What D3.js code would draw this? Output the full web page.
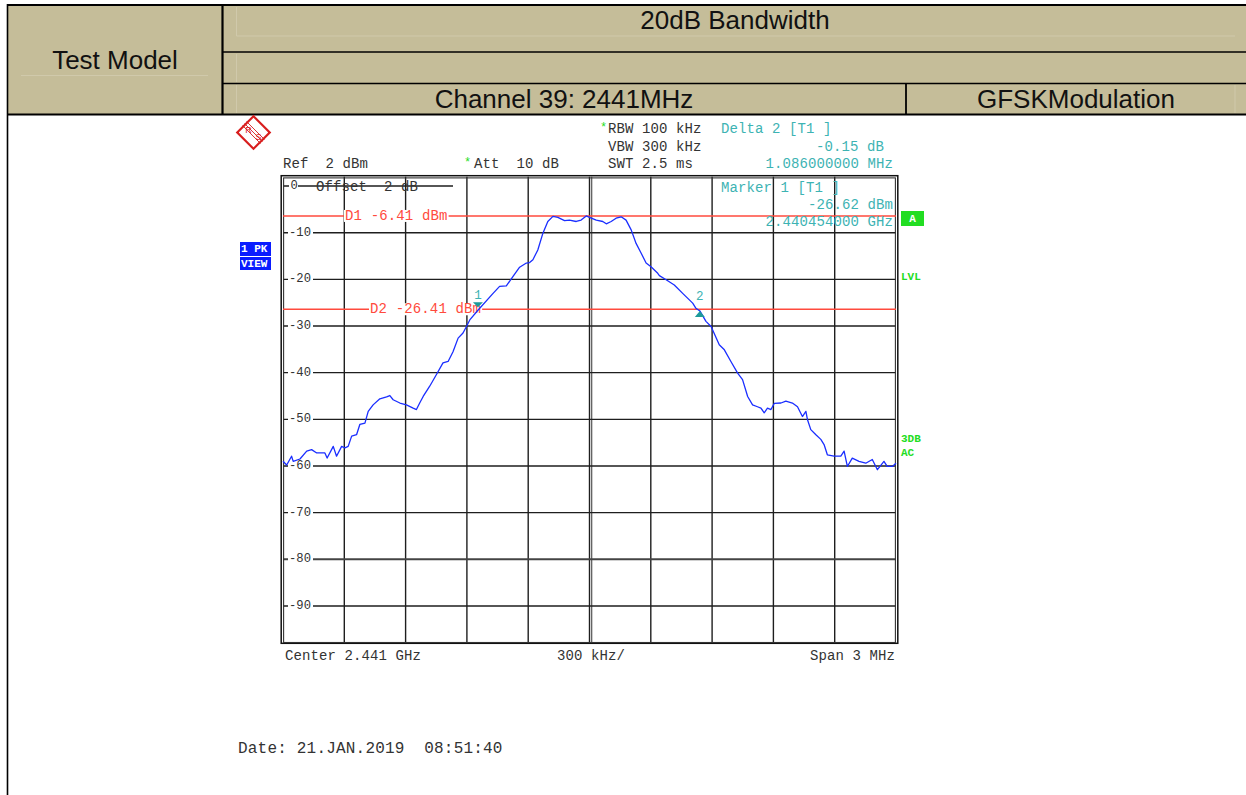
<!DOCTYPE html>
<html><head><meta charset="utf-8">
<script src="https://cdn.jsdelivr.net/npm/d3@7"></script>
<style>body{margin:0;background:#fff}</style>
</head><body>
<svg id="c" width="1246" height="795"></svg>
<script>
// ---- data (offset from 2.441 GHz centre, kHz / level dBm) ----
const freqKHz = [-1500,-1482,-1458,-1450,-1417,-1384,-1360,-1335,-1295,-1284,-1254,-1238,-1213,-1197,-1181,-1164,-1140,-1124,-1099,-1083,-1059,-1026,-993,-977,-961,-928,-896,-863,-847,-831,-814,-782,-749,-717,-692,-668,-643,-619,-602,-586,-546,-472,-440,-407,-375,-342,-309,-293,-277,-253,-228,-204,-179,-155,-122,-98,-65,-41,-16,0,33,65,82,106,130,155,179,204,228,253,277,301,334,342,375,415,456,505,521,540,570,595,635,660,692,725,749,774,798,822,839,855,871,888,904,937,961,993,1018,1042,1059,1067,1083,1108,1132,1148,1164,1197,1230,1246,1262,1286,1319,1352,1384,1409,1441,1457,1482,1500];
const levelDbm = [-59.0,-59.8,-57.9,-59.0,-58.5,-56.8,-56.5,-57.2,-57.2,-58.3,-55.8,-57.9,-55.8,-56.1,-55.8,-53.6,-53.3,-51.1,-50.8,-48.3,-46.9,-45.6,-45.2,-44.9,-45.8,-46.5,-46.9,-47.6,-47.9,-46.5,-45.1,-42.9,-40.4,-37.9,-37.6,-35.5,-32.6,-31.5,-30.1,-28.7,-26.62,-23.0,-21.5,-21.4,-19.4,-17.4,-16.5,-16.4,-15.8,-13.7,-10.1,-7.6,-6.5,-6.7,-7.4,-7.3,-7.6,-7.3,-6.4,-6.7,-7.3,-7.6,-8.1,-7.6,-6.9,-6.6,-7.3,-9.4,-12.3,-14.4,-16.5,-17.3,-18.7,-19.2,-20.1,-21.2,-23.0,-25.1,-26.2,-26.77,-29.0,-30.1,-34.0,-35.1,-37.6,-40.1,-41.5,-45.1,-46.9,-47.3,-47.6,-48.6,-47.6,-47.9,-46.6,-46.5,-46.1,-46.5,-47.3,-49.4,-48.3,-50.1,-52.2,-53.3,-54.3,-55.4,-57.6,-57.9,-57.9,-56.8,-60.1,-58.3,-59.0,-59.4,-58.6,-60.8,-59.0,-60.1,-60.1,-59.4];
const yTickValues = [-10,-20,-30,-40,-50,-60,-70,-80,-90];
const xGridValues = [-1200,-900,-600,-300,0,300,600,900,1200];
const dLineNames = ["D1 -6.41 dBm","D2 -26.41 dBm"];
const dLineValues = [-6.41,-26.41];
const markerNames = ["1","2"];
const markerFreqKHz = [-546,540];
const markerLevels = [-26.62,-26.77];
const headerTitle = "20dB Bandwidth";
const headerLeft = "Test Model";
const headerChannel = "Channel 39: 2441MHz";
const headerMod = "GFSKModulation";

const svg = d3.select("#c");
const MONO = "'Liberation Mono','Courier New',monospace";
const SANS = "'Liberation Sans',Arial,sans-serif";
const TEAL = "#3db3b3", RED = "#ff4a3d", GREEN = "#22dd22", GRID = "#1e1e1e";

// ---- header table ----
const hdr = svg.append("g");
hdr.append("rect").attr("x",8).attr("y",5).attr("width",1238).attr("height",110).attr("fill","#c5bd99");
const faint = "#d0c9ab";
[[21,75.5,208,75.5],[236.5,7,236.5,36],[236.5,36,1235,36],[236.5,54,236.5,82],[236.5,85,236.5,113],[1235,85,1235,113]].forEach(l=>{
  hdr.append("line").attr("x1",l[0]).attr("y1",l[1]).attr("x2",l[2]).attr("y2",l[3]).attr("stroke",faint).attr("stroke-width",1);
});
const blk = [[7,5,1246,5,2.2],[222.5,5,222.5,115,2.2],[222,52,1246,52,1.5],[222,83.5,1246,83.5,1.5],[7,114.5,1246,114.5,2.2],[906,83,906,115,1.8],[7.5,4,7.5,795,1.6]];
blk.forEach(l=>{
  hdr.append("line").attr("x1",l[0]).attr("y1",l[1]).attr("x2",l[2]).attr("y2",l[3]).attr("stroke","#000").attr("stroke-width",l[4]);
});
const htxt = (x,y,t)=>hdr.append("text").attr("x",x).attr("y",y).attr("text-anchor","middle").attr("dominant-baseline","central")
  .attr("font-family",SANS).attr("font-size",26).attr("fill","#111").text(t);
htxt(735,20,headerTitle);
htxt(115,60,headerLeft);
htxt(564,99,headerChannel);
htxt(1076,99,headerMod);

// ---- scales ----
const x = d3.scaleLinear().domain([-1500,1500]).range([283,896]);
const y = d3.scaleLinear().domain([2,-98]).range([176.7,643.3]);

const plot = svg.append("g");
// vertical gridlines
plot.selectAll(".vg").data(xGridValues).join("line")
  .attr("x1",d=>x(d)).attr("x2",d=>x(d)).attr("y1",y(2)).attr("y2",y(-98))
  .attr("stroke",GRID).attr("stroke-width",1.4);
// centre double line
plot.append("line").attr("x1",x(0)+2.2).attr("x2",x(0)+2.2).attr("y1",y(2)).attr("y2",y(-98)).attr("stroke","#555").attr("stroke-width",1.2);
// horizontal gridlines
plot.selectAll(".hg").data(yTickValues).join("line")
  .attr("x1",x(-1500)).attr("x2",x(1500)).attr("y1",d=>y(d)).attr("y2",d=>y(d))
  .attr("stroke",d=>d===-80?"#444":GRID).attr("stroke-width",d=>d===-80?2:1.4);
// 0 dB offset line
plot.append("line").attr("x1",x(-1500)).attr("x2",453).attr("y1",y(0)).attr("y2",y(0)).attr("stroke",GRID).attr("stroke-width",1.4);
// frame (double)
plot.append("rect").attr("x",x(-1500)-1.8).attr("y",y(2)-1).attr("width",x(1500)-x(-1500)+3.6).attr("height",y(-98)-y(2)+1)
  .attr("fill","none").attr("stroke","#111").attr("stroke-width",1.5);
plot.append("rect").attr("x",x(-1500)+0.6).attr("y",y(2)+1.2).attr("width",x(1500)-x(-1500)-1.2).attr("height",y(-98)-y(2)-2)
  .attr("fill","none").attr("stroke","#333").attr("stroke-width",1.1);

// y tick labels (inside, with white background)
const yl = plot.selectAll(".yl").data(yTickValues).join("g").attr("transform",d=>`translate(288,${y(d)})`);
yl.append("rect").attr("x",0).attr("y",-6).attr("width",25).attr("height",12).attr("fill","#fff");
yl.append("text").attr("x",1).attr("y",0).attr("dominant-baseline","central").attr("font-family",MONO).attr("font-size",12.2)
  .attr("fill","#333").text(d=>String(d));
plot.append("rect").attr("x",289).attr("y",y(0)-6).attr("width",9).attr("height",12).attr("fill","#fff");
plot.append("text").attr("x",290.5).attr("y",y(0)).attr("dominant-baseline","central").attr("font-family",MONO).attr("font-size",12.2).attr("fill","#333").text("0");
plot.append("text").attr("x",316).attr("y",y(0)+1).attr("dominant-baseline","central").attr("font-family",MONO).attr("font-size",14)
  .attr("letter-spacing",0.1).attr("fill","#333").attr("xml:space","preserve").text("Offset  2 dB");

// display lines D1/D2
const dl = plot.selectAll(".dl").data(dLineValues).join("g");
dl.append("line").attr("x1",x(-1500)).attr("x2",x(1500)).attr("y1",d=>y(d)).attr("y2",d=>y(d)).attr("stroke",RED).attr("stroke-width",1.5);
const dlx = [345,370];
dl.each(function(d,i){
  const g = d3.select(this);
  const t = g.append("text").attr("x",dlx[i]).attr("y",y(d)).attr("dominant-baseline","central").attr("font-family",MONO)
    .attr("font-size",14).attr("letter-spacing",0.15).attr("fill",RED).text(dLineNames[i]);
  const bb = t.node().getBBox();
  g.insert("rect","text").attr("x",bb.x-1).attr("y",bb.y+2).attr("width",bb.width+2).attr("height",bb.height-4).attr("fill","#fff");
});

// trace
const pts = freqKHz.map((f,i)=>[f,levelDbm[i]]);
plot.append("path").datum(pts).attr("fill","none").attr("stroke","#1a2eff").attr("stroke-width",1.3)
  .attr("stroke-linejoin","round").attr("d",d3.line().x(d=>x(d[0])).y(d=>y(d[1])));

// markers
markerFreqKHz.forEach((f,i)=>{
  const mx = x(f), my = y(markerLevels[i]);
  const tri = i===0 ? `M${mx-5},${my-8}L${mx+5},${my-8}L${mx},${my-3}Z` : `M${mx-5},${my+6}L${mx+5},${my+6}L${mx},${my}Z`;
  plot.append("path").attr("d",tri).attr("fill","#1d9a9a");
  plot.append("text").attr("x",mx).attr("y",my-14).attr("text-anchor","middle").attr("dominant-baseline","central")
    .attr("font-family",MONO).attr("font-size",12.5).attr("fill",TEAL).text(markerNames[i]);
});

// ---- annotations ----
const txt = (x0,y0,t,opt={})=>svg.append("text").attr("x",x0).attr("y",y0).attr("dominant-baseline","central")
  .attr("font-family",MONO).attr("font-size",opt.size||14).attr("letter-spacing",opt.ls==null?0.1:opt.ls)
  .attr("fill",opt.fill||"#333").attr("text-anchor",opt.anchor||"start").attr("font-weight",opt.weight||"normal")
  .attr("xml:space","preserve").text(t);
txt(608,129,"RBW 100 kHz");
txt(608,146.5,"VBW 300 kHz");
txt(608,164,"SWT 2.5 ms");
txt(283,164,"Ref  2 dBm");
txt(474,164,"Att  10 dB");
txt(600,128,"*",{fill:GREEN,size:12});
txt(464,163,"*",{fill:GREEN,size:12});
txt(721,129,"Delta 2 [T1 ]",{fill:TEAL});
txt(884,146.5,"-0.15 dB",{fill:TEAL,anchor:"end"});
txt(893,164,"1.086000000 MHz",{fill:TEAL,anchor:"end"});
txt(721,188,"Marker 1 [T1 ]",{fill:TEAL});
txt(893,204.5,"-26.62 dBm",{fill:TEAL,anchor:"end"});
txt(893,221.5,"2.440454000 GHz",{fill:TEAL,anchor:"end"});
txt(285,656,"Center 2.441 GHz");
txt(557,656,"300 kHz/");
txt(895,656,"Span 3 MHz",{anchor:"end"});
txt(238,748.5,"Date: 21.JAN.2019  08:51:40",{size:16,ls:0.2});

// side labels
svg.append("rect").attr("x",240).attr("y",242).attr("width",31).attr("height",14).attr("fill","#0a1cff");
svg.append("rect").attr("x",240).attr("y",257).attr("width",31).attr("height",13).attr("fill","#0a1cff");
txt(241,249,"1 PK",{fill:"#fff",size:11,weight:"bold",ls:0});
txt(241,263.5,"VIEW",{fill:"#fff",size:11,weight:"bold",ls:0});
svg.append("rect").attr("x",901).attr("y",211).attr("width",23).attr("height",15).attr("fill",GREEN);
txt(912.5,218.5,"A",{fill:"#fff",size:11,weight:"bold",anchor:"middle",ls:0});
txt(901,277,"LVL",{fill:GREEN,size:11,weight:"bold",ls:0});
txt(901,439,"3DB",{fill:GREEN,size:11,weight:"bold",ls:0});
txt(901,453,"AC",{fill:GREEN,size:11,weight:"bold",ls:0});

// R&S logo
const lg = svg.append("g").attr("transform","translate(253.5,132.5)");
lg.append("rect").attr("x",-11.5).attr("y",-11.5).attr("width",23).attr("height",23).attr("transform","rotate(45)")
  .attr("fill","#fff").attr("stroke","#d81e1e").attr("stroke-width",2.2);
[-2,0,2].forEach(o=>lg.append("line").attr("x1",-9+o).attr("y1",-9-o).attr("x2",9+o).attr("y2",9-o).attr("stroke","#d81e1e").attr("stroke-width",0.9));
lg.append("text").attr("x",-5).attr("y",-3).attr("text-anchor","middle").attr("dominant-baseline","central").attr("font-family",SANS)
  .attr("font-size",9).attr("fill","#d81e1e").text("R");
lg.append("text").attr("x",5).attr("y",4.5).attr("text-anchor","middle").attr("dominant-baseline","central").attr("font-family",SANS)
  .attr("font-size",9).attr("fill","#d81e1e").text("S");
</script>
</body></html>
